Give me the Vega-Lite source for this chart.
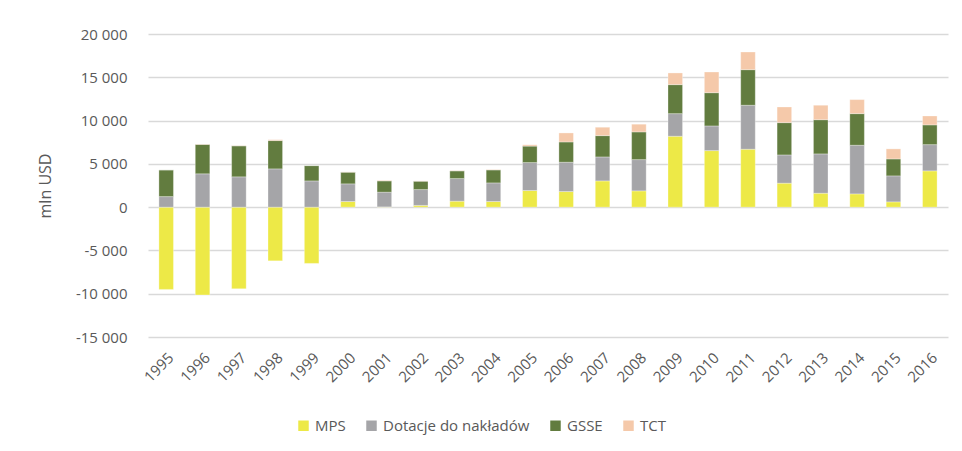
{
  "$schema": "https://vega.github.io/schema/vega-lite/v6.json",
  "width": 800,
  "height": 303,
  "autosize": {"type": "none"},
  "padding": {"left": 148, "top": 34, "right": 14, "bottom": 114},
  "background": "white",
  "config": {
    "view": {"stroke": null},
    "font": "Open Sans"
  },
  "data": {"values": [
    {"year": "1995", "series": "MPS", "o": 1, "value": -9500},
    {"year": "1995", "series": "Dotacje do nakładów", "o": 2, "value": 1220},
    {"year": "1995", "series": "GSSE", "o": 3, "value": 3080},
    {"year": "1995", "series": "TCT", "o": 4, "value": 0},
    {"year": "1996", "series": "MPS", "o": 1, "value": -10150},
    {"year": "1996", "series": "Dotacje do nakładów", "o": 2, "value": 3850},
    {"year": "1996", "series": "GSSE", "o": 3, "value": 3400},
    {"year": "1996", "series": "TCT", "o": 4, "value": 40},
    {"year": "1997", "series": "MPS", "o": 1, "value": -9430},
    {"year": "1997", "series": "Dotacje do nakładów", "o": 2, "value": 3500},
    {"year": "1997", "series": "GSSE", "o": 3, "value": 3580},
    {"year": "1997", "series": "TCT", "o": 4, "value": 30},
    {"year": "1998", "series": "MPS", "o": 1, "value": -6200},
    {"year": "1998", "series": "Dotacje do nakładów", "o": 2, "value": 4420},
    {"year": "1998", "series": "GSSE", "o": 3, "value": 3270},
    {"year": "1998", "series": "TCT", "o": 4, "value": 100},
    {"year": "1999", "series": "MPS", "o": 1, "value": -6500},
    {"year": "1999", "series": "Dotacje do nakładów", "o": 2, "value": 3030},
    {"year": "1999", "series": "GSSE", "o": 3, "value": 1770},
    {"year": "1999", "series": "TCT", "o": 4, "value": 0},
    {"year": "2000", "series": "MPS", "o": 1, "value": 650},
    {"year": "2000", "series": "Dotacje do nakładów", "o": 2, "value": 2040},
    {"year": "2000", "series": "GSSE", "o": 3, "value": 1350},
    {"year": "2000", "series": "TCT", "o": 4, "value": 30},
    {"year": "2001", "series": "MPS", "o": 1, "value": 30},
    {"year": "2001", "series": "Dotacje do nakładów", "o": 2, "value": 1700},
    {"year": "2001", "series": "GSSE", "o": 3, "value": 1300},
    {"year": "2001", "series": "TCT", "o": 4, "value": 60},
    {"year": "2002", "series": "MPS", "o": 1, "value": 200},
    {"year": "2002", "series": "Dotacje do nakładów", "o": 2, "value": 1830},
    {"year": "2002", "series": "GSSE", "o": 3, "value": 970},
    {"year": "2002", "series": "TCT", "o": 4, "value": 30},
    {"year": "2003", "series": "MPS", "o": 1, "value": 690},
    {"year": "2003", "series": "Dotacje do nakładów", "o": 2, "value": 2610},
    {"year": "2003", "series": "GSSE", "o": 3, "value": 890},
    {"year": "2003", "series": "TCT", "o": 4, "value": 30},
    {"year": "2004", "series": "MPS", "o": 1, "value": 650},
    {"year": "2004", "series": "Dotacje do nakładów", "o": 2, "value": 2150},
    {"year": "2004", "series": "GSSE", "o": 3, "value": 1500},
    {"year": "2004", "series": "TCT", "o": 4, "value": 40},
    {"year": "2005", "series": "MPS", "o": 1, "value": 1920},
    {"year": "2005", "series": "Dotacje do nakładów", "o": 2, "value": 3230},
    {"year": "2005", "series": "GSSE", "o": 3, "value": 1900},
    {"year": "2005", "series": "TCT", "o": 4, "value": 150},
    {"year": "2006", "series": "MPS", "o": 1, "value": 1800},
    {"year": "2006", "series": "Dotacje do nakładów", "o": 2, "value": 3390},
    {"year": "2006", "series": "GSSE", "o": 3, "value": 2340},
    {"year": "2006", "series": "TCT", "o": 4, "value": 1040},
    {"year": "2007", "series": "MPS", "o": 1, "value": 3030},
    {"year": "2007", "series": "Dotacje do nakładów", "o": 2, "value": 2770},
    {"year": "2007", "series": "GSSE", "o": 3, "value": 2460},
    {"year": "2007", "series": "TCT", "o": 4, "value": 970},
    {"year": "2008", "series": "MPS", "o": 1, "value": 1880},
    {"year": "2008", "series": "Dotacje do nakładów", "o": 2, "value": 3610},
    {"year": "2008", "series": "GSSE", "o": 3, "value": 3200},
    {"year": "2008", "series": "TCT", "o": 4, "value": 890},
    {"year": "2009", "series": "MPS", "o": 1, "value": 8190},
    {"year": "2009", "series": "Dotacje do nakładów", "o": 2, "value": 2610},
    {"year": "2009", "series": "GSSE", "o": 3, "value": 3350},
    {"year": "2009", "series": "TCT", "o": 4, "value": 1350},
    {"year": "2010", "series": "MPS", "o": 1, "value": 6530},
    {"year": "2010", "series": "Dotacje do nakładów", "o": 2, "value": 2850},
    {"year": "2010", "series": "GSSE", "o": 3, "value": 3840},
    {"year": "2010", "series": "TCT", "o": 4, "value": 2390},
    {"year": "2011", "series": "MPS", "o": 1, "value": 6690},
    {"year": "2011", "series": "Dotacje do nakładów", "o": 2, "value": 5080},
    {"year": "2011", "series": "GSSE", "o": 3, "value": 4110},
    {"year": "2011", "series": "TCT", "o": 4, "value": 2040},
    {"year": "2012", "series": "MPS", "o": 1, "value": 2770},
    {"year": "2012", "series": "Dotacje do nakładów", "o": 2, "value": 3260},
    {"year": "2012", "series": "GSSE", "o": 3, "value": 3730},
    {"year": "2012", "series": "TCT", "o": 4, "value": 1810},
    {"year": "2013", "series": "MPS", "o": 1, "value": 1610},
    {"year": "2013", "series": "Dotacje do nakładów", "o": 2, "value": 4540},
    {"year": "2013", "series": "GSSE", "o": 3, "value": 3950},
    {"year": "2013", "series": "TCT", "o": 4, "value": 1670},
    {"year": "2014", "series": "MPS", "o": 1, "value": 1530},
    {"year": "2014", "series": "Dotacje do nakładów", "o": 2, "value": 5620},
    {"year": "2014", "series": "GSSE", "o": 3, "value": 3650},
    {"year": "2014", "series": "TCT", "o": 4, "value": 1620},
    {"year": "2015", "series": "MPS", "o": 1, "value": 610},
    {"year": "2015", "series": "Dotacje do nakładów", "o": 2, "value": 3000},
    {"year": "2015", "series": "GSSE", "o": 3, "value": 1960},
    {"year": "2015", "series": "TCT", "o": 4, "value": 1160},
    {"year": "2016", "series": "MPS", "o": 1, "value": 4190},
    {"year": "2016", "series": "Dotacje do nakładów", "o": 2, "value": 3030},
    {"year": "2016", "series": "GSSE", "o": 3, "value": 2280},
    {"year": "2016", "series": "TCT", "o": 4, "value": 1030}
  ]},
  "mark": {"type": "bar", "stroke": "white", "strokeWidth": 0.5, "strokeOpacity": 0.6},
  "encoding": {
    "x": {
      "field": "year", "type": "nominal", "title": null,
      "scale": {"paddingInner": 0.6, "paddingOuter": 0.3},
      "axis": {"labelAngle": -45, "labelFontSize": 15, "labelColor": "#595959", "domain": false, "ticks": false, "labelPadding": 13, "labelFont": "Open Sans"}
    },
    "y": {
      "field": "value", "type": "quantitative", "stack": "zero",
      "title": "mln USD",
      "scale": {"domain": [-15000, 20000], "nice": false},
      "axis": {"values": [-15000, -10000, -5000, 0, 5000, 10000, 15000, 20000], "labelExpr": "replace(replace(format(datum.value, ','), ',', ' '), '\u2212', '-')", "labelFontSize": 15, "labelColor": "#595959", "domain": false, "ticks": false, "labelPadding": 21, "gridColor": "#d9d9d9", "gridWidth": 1.5, "titleFontSize": 16, "titleColor": "#595959", "titleFontWeight": "normal", "titlePadding": 22, "labelFont": "Open Sans", "titleFont": "Open Sans"}
    },
    "color": {
      "field": "series", "type": "nominal", "title": null,
      "scale": {"domain": ["MPS", "Dotacje do nakładów", "GSSE", "TCT"], "range": ["#EDE947", "#A5A5A8", "#627C3F", "#F5C9AA"]},
      "legend": {"orient": "none", "direction": "horizontal", "legendX": 148, "legendY": 384, "symbolType": "square", "symbolSize": 110, "symbolStrokeWidth": 0, "labelFontSize": 15, "labelColor": "#595959", "columnPadding": 18, "labelFont": "Open Sans"}
    },
    "order": {"field": "o", "type": "quantitative"}
  }
}
